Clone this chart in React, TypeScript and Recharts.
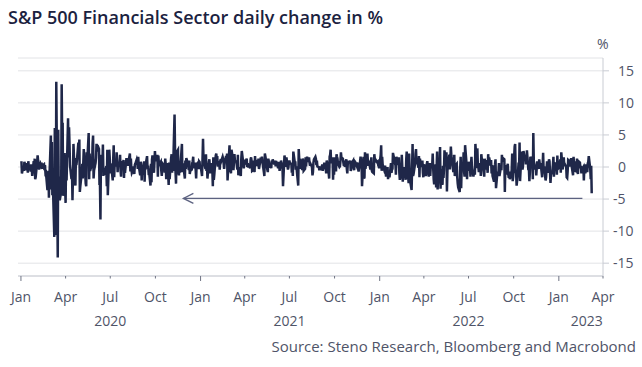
import React from 'react';
import { LineChart, Line, XAxis, YAxis, CartesianGrid, ReferenceLine, ReferenceDot } from 'recharts';

// Daily % change, one value per weekday starting 2020-01-02
const chg2020 = [
  0.9, -1.0, 0.1, -0.6, 0.8, 0.5, -0.5, 0.6, 0.3, -0.9, 0.9, 0.2, -0.3, -0.7, 0.4, -0.2, -1.4, 0.9, -0.6, 1.3, -1.9, -1.6,
  0.8, 1.8, 1.0, 0.6, -0.4, 0.5, 0.3, 0.7, -0.3, 0.2, 0.4, -0.5, 0.3, -1.0, -0.9, -3.6, -3.2, -0.6, -4.8, -1.6,
  4.9, -3.5, 3.9, -4.4, -2.5, -10.9, 6.1, -5.8, -10.6, 13.3, -14.1, 5.8, -3.6, -1.5, -5.2, -3.9, 12.9, 4.5, 6.9, -4.5, 2.2, -3.1,
  -5.6, 1.2, -2.1, 7.6, 1.5, 6.2, 3.5, 0.2, -1.9, -0.4, -5.2, -1.3, 3.6, -2.0, -2.9, 1.4, 0.3, 1.0, 3.8, 1.9, 4.3, -3.9,
  -3.0, -0.9, 0.5, -1.8, 0.6, 2.8, -1.2, -2.6, -3.0, 2.3, 0.6, 5.3, -1.9, 2.1, -0.6, -0.3, 0.4, 3.7, 4.9, -1.8, -0.5,
  0.6, 1.4, 3.6, 2.4, 3.4, 2.8, -2.6, -2.6, -8.2, 1.9, 0.5, 3.5, -1.4, -0.2, -1.2, -0.2, -0.3, -3.0, 2.7, -4.4, 2.7, 1.3,
  -1.0, 0.4, 0.3, -2.1, 1.2, 3.4, -1.6, 0.8, 0.1, 2.3, 1.0, -0.8, 0.6, 0.3, 1.9, -0.6, -1.5, 0.9, 0.2, 1.1, -1.7, 0.6, -0.9,
  1.4, 0.6, 0.9, 0.2, 0.8, 2.1, -0.7, 1.3, -0.2, -0.9, -0.4, 0.1, -1.1, 0.3, 0.5, 1.2, 0.9, -0.3, 1.6, 0.2, -1.3,
  0.8, 0.6, -2.1, 0.4, -1.2, 0.9, -2.3, 0.6, 0.3, 1.7, -0.4, 0.2, -0.8, -0.7, -2.9, 0.5, -2.4, 1.1, 1.8, -0.9, 0.7, 2.5,
  1.4, 0.9, 1.9, -1.5, 1.8, 0.6, 0.4, 0.8, -0.6, -1.4, -0.3, 0.5, 0.2, -0.9, 1.3, 0.4, -1.9, 0.6, -1.2, -2.8, 0.7, -1.9,
  1.4, 2.0, -0.9, 1.6, -0.6, 8.2, 2.4, -0.8, -2.6, 2.3, 2.7, -0.9, -1.3, 0.3, -0.9, 2.4, 3.6, -0.8, 0.1, 0.2, -1.8,
  1.0, -0.3, 1.4, 1.1, 0.3, -0.5, 1.0, -1.1, -0.6, -0.4, 0.6, 0.9, 1.6, -0.2, 0.7, -0.4, -1.8, 0.4, 0.5, -0.3, 0.9, 0.8, -0.2,
];

const chg2021 = [
  0.3, -1.4, 1.3, 4.4, 1.2, 0.9, -0.3, 2.0, -0.6, 0.6, -1.8, 0.8, 1.2, -0.4, -1.0, 0.6, -0.5, -3.0, 1.5, -2.0, -1.2,
  1.8, 2.1, 1.2, 1.7, 0.1, 0.6, -0.4, 0.8, 1.2, 0.9, 1.6, 1.3, 0.6, -0.3, 0.5, 1.7, 1.0, 2.1, -2.1, -0.6,
  3.4, -0.8, 1.4, -1.0, 2.7, 1.3, -0.5, 0.7, 2.0, 1.0, 0.8, 0.2, -0.4, 1.9, -1.3, 0.0, -0.8, -1.4, 1.3, 2.5, 0.6, -0.2, 0.5,
  0.8, 0.7, 1.3, 0.0, 0.6, -0.1, 0.5, -0.2, 1.2, 1.5, 0.9, -0.6, -0.4, 1.0, -0.8, 1.7, 0.2, 0.7, 1.1, 0.1, 1.3, -0.3,
  1.1, 1.0, 1.3, 1.6, 0.8, -0.8, -1.4, 2.1, 1.7, 1.2, -0.4, -0.8, 1.3, 0.9, -0.1, 0.7, -0.2, 1.0, 0.6, 1.2, 0.4,
  0.8, 1.0, 0.1, 0.9, 0.2, -0.2, 0.1, 0.8, -0.6, 1.0, 0.6, 0.3, -0.3, -3.0, 1.8, 1.2, 0.0, 1.3, 1.5, -0.4, -0.1, 0.7,
  1.0, 0.6, 0.5, -0.9, -0.1, -1.4, 2.4, 0.7, 0.9, -0.4, 0.1, -0.5, -2.9, 2.8, 1.3, -0.3, 1.1, 0.8, -0.5, 1.3, 1.0, -0.6,
  -0.3, 1.5, 0.1, 1.2, 1.6, 0.8, 1.5, 0.7, 0.2, 0.5, 0.0, -1.3, -0.8, 0.7, 1.2, 1.6, 1.3, 0.3, 1.0, 0.1, 0.0, -0.5,
  0.1, -0.2, -0.5, 0.4, -0.6, 0.0, -0.3, 0.7, -0.2, -1.0, 1.0, 0.6, 0.8, -1.8, 1.6, 1.9, 2.7, 0.6, 1.5, -2.0, 0.8, -1.2,
  1.5, -0.7, 2.0, 1.6, 1.3, 0.5, 0.0, 0.1, 0.9, 2.3, 1.5, 1.3, 0.7, 0.2, 1.0, 0.0, 1.2, -0.3, -1.0, 0.6, 0.8,
  0.7, 1.0, -0.6, -0.3, 0.6, 1.0, 0.0, -0.5, 0.9, 0.8, 0.2, 0.7, 0.4, -0.2, -0.7, 0.8, 1.6, 1.1, 0.6, -3.0, 1.6, -1.8,
  -1.6, 2.3, -0.3, 1.7, 2.1, 0.8, 0.2, 1.0, -0.4, 0.8, 1.5, -0.6, -0.8, -1.0, 2.0, 1.3, 0.7, 1.1, 0.7, 0.8, 0.3, 0.1, -0.2,
];

const chg2022 = [
  1.9, 3.4, -0.6, 1.6, 0.4, -0.4, -0.1, 0.2, -0.8, -1.5, 0.0, -1.9, -1.0, -1.3, -1.6, 0.6, -0.9, -0.4, -0.3, 2.2, 1.1,
  0.7, 0.8, -1.2, 1.6, 0.3, 1.2, 1.5, -0.9, -2.0, -0.9, 1.9, 0.1, -2.3, -0.9, 0.0, -1.2, -2.0, 1.1, 2.4, -1.6,
  -2.5, 2.1, -0.5, -2.2, -3.6, -0.3, 3.6, -1.4, -1.1, 0.5, 2.1, 2.8, 0.7, 0.9, -0.1, 1.7, -1.6, 1.3, 0.8, 0.0, 1.0, -0.9, -1.6,
  0.3, 0.2, -1.4, -0.8, 0.5, 0.9, -1.5, -0.4, 0.6, -1.4, 0.0, 0.2, 2.1, -0.2, -1.9, -2.7, 0.4, -3.2, -0.1, 2.4, -3.5,
  0.6, 0.7, 3.1, -3.4, -0.3, -2.8, 0.2, -1.7, -0.3, 2.6, 0.1, 2.3, -3.8, -0.6, 0.5, 1.9, -0.4, 1.3, 3.2, 1.8, 0.0, -0.8,
  -0.6, 1.9, -1.4, 0.4, 0.5, -1.6, -2.6, -3.2, -3.9, -0.3, 1.6, -3.3, 0.0, 0.0, 2.3, -0.8, -1.5, 3.4, 0.5, -1.9, 0.4, -0.6,
  0.8, 0.0, -1.5, 0.3, 1.6, 0.0, -1.5, -0.8, -0.5, -1.2, 3.6, -0.2, 2.9, 0.3, 0.0, -0.8, 0.6, -1.4, 2.0, 1.3, 1.2,
  -0.9, -1.5, 1.3, -0.4, 1.1, -0.1, -0.9, 2.0, 0.6, 1.5, 0.2, 1.1, -1.0, 0.3, -1.4, -2.3, 0.0, 0.4, 1.2, -3.3, -0.7, -1.2, -0.9,
  0.6, -1.4, 0.0, -0.5, 1.9, 0.8, 1.4, 1.2, -3.9, 0.3, -1.2, -0.6, 0.5, -1.1, -1.7, -0.7, -1.9, -1.2, -0.4, 2.1, -2.2, -1.5,
  3.2, 3.6, -0.7, -1.0, -2.9, -0.6, 0.7, -0.4, 3.8, -2.2, 2.4, 1.3, -0.4, 0.2, 2.5, 1.1, 1.5, 0.4, 0.9, 2.6, -0.5,
  -0.3, -2.2, -0.8, 1.6, 0.9, 0.8, -1.9, 5.3, 0.9, -0.4, 0.3, -1.3, -0.2, 0.9, -0.3, 1.2, 0.6, 0.0, 0.6, -1.6, 0.2, 2.2,
  -0.4, 0.1, -2.1, -1.6, -0.3, 0.9, -0.9, 1.2, 0.9, -0.8, -2.5, -1.2, -0.6, 0.4, 1.6, -1.5, 0.7, 0.0, 0.2, -1.2, 1.8, -0.3,
];

const chg2023 = [
  0.0, 0.6, 1.2, -0.9, 2.3, -0.4, 1.2, 1.5, 0.4, 0.5, 0.0, -1.6, -1.7, -0.6, 1.1, 0.9, 0.1, 0.3, 1.4, 0.2, -1.3, 1.6,
  0.4, 0.9, -0.6, -0.7, 1.3, -0.8, -1.1, 0.9, 0.7, -0.2, 0.2, -1.0, -0.4, 0.0, -2.1, -0.1, 0.4, -1.0, 0.4, -0.8,
  0.6, 0.8, 1.7, -0.3, -1.9, 0.2, -4.1,
];

const firstDay = '2020-01-02';
const axisStart = '2019-12-26';
const axisEnd = '2023-04-01';
const yTicks = [-15, -10, -5, 0, 5, 10, 15];
const yDomain = [-17, 17];
const monthNames = ['Jan', 'Apr', 'Jul', 'Oct'];
const yearLabels = [
  { year: '2020', at: '2020-07-01' },
  { year: '2021', at: '2021-07-01' },
  { year: '2022', at: '2022-07-01' },
  { year: '2023', at: '2023-02-27' },
];
const arrowLevel = -4.9;
const arrowHead = '2020-11-27';
const arrowTail = '2023-02-18';

const title = 'S&P 500 Financials Sector daily change in %';
const source = 'Source: Steno Research, Bloomberg and Macrobond';
const unit = '%';

const MS = 86400000;
const origin = Date.UTC(2020, 0, 1);
const toDay = (s: string) => {
  const [y, m, d] = s.split('-').map(Number);
  return Math.round((Date.UTC(y, m - 1, d) - origin) / MS);
};
const dayToDate = (n: number) => new Date(origin + n * MS);

const allValues = [...chg2020, ...chg2021, ...chg2022, ...chg2023];
const data: { t: number; v: number }[] = [];
{
  let t = toDay(firstDay);
  for (const v of allValues) {
    while ([0, 6].includes(dayToDate(t).getUTCDay())) t++;
    data.push({ t, v });
    t++;
  }
}

const quarterTicks: number[] = [];
for (let y = 2020; y <= 2023; y++) {
  for (let m = 0; m < 12; m += 3) {
    const d = Math.round((Date.UTC(y, m, 1) - origin) / MS);
    if (d <= toDay(axisEnd)) quarterTicks.push(d);
  }
}
const yearTicks = yearLabels.map((l) => toDay(l.at));

const FONT = "'Open Sans', 'Noto Sans', sans-serif";
const NAVY = '#1f2749';
const TEXT = '#4f5468';
const GRID = '#e2e3e6';
const AXIS = '#c9ccd3';

const MonthTick = (props: any) => {
  const { x, y, payload } = props;
  const m = dayToDate(payload.value).getUTCMonth();
  const len = m === 0 ? 5 : 2.5;
  return (
    <g>
      <line x1={x} x2={x} y1={y} y2={y + len} stroke="#6f7484" strokeWidth={1} />
      <text x={x} y={y + 26} textAnchor="middle" fill={TEXT} fontSize={14} fontFamily={FONT}>
        {monthNames[m / 3]}
      </text>
    </g>
  );
};

const YearTick = (props: any) => {
  const { x, y, payload } = props;
  const lbl = yearLabels[yearTicks.indexOf(payload.value)];
  return (
    <text x={x} y={y + 20} textAnchor="middle" fill={TEXT} fontSize={14} fontFamily={FONT}>
      {lbl ? lbl.year : ''}
    </text>
  );
};

const ValueTick = (props: any) => {
  const { x, y, payload } = props;
  const v = payload.value;
  return (
    <text x={v < 0 ? x + 2 : x + 7} y={y} dy="0.35em" textAnchor="start" fill={TEXT} fontSize={14} fontFamily={FONT}>
      {String(v)}
    </text>
  );
};

const ArrowHead = (props: any) => {
  const { cx, cy } = props;
  if (cx == null || cy == null) return null;
  return (
    <path d={`M${cx + 10},${cy - 5} L${cx},${cy} L${cx + 10},${cy + 5}`} fill="none" stroke="#5c6280" strokeWidth={1.3} />
  );
};

export default function App() {
  return (
    <div style={{ position: 'absolute', left: 0, top: 0, width: 642, height: 367, background: '#fff', overflow: 'hidden' }}>
      <div style={{ position: 'absolute', left: 8, top: 5, fontFamily: FONT, fontWeight: 600, fontSize: 18, color: '#1b2240', whiteSpace: 'nowrap' }}>
        {title}
      </div>
      <div style={{ position: 'absolute', left: 597, top: 34, fontFamily: FONT, fontSize: 14, color: TEXT }}>{unit}</div>
      <div style={{ position: 'absolute', right: 6, top: 336, fontFamily: FONT, fontSize: 15, color: TEXT, whiteSpace: 'nowrap' }}>
        {source}
      </div>
      <div style={{ position: 'absolute', left: 0, top: 0 }}>
        <LineChart width={642} height={367} data={data} margin={{ top: 58, right: 0, left: 18, bottom: 36 }}>
          <CartesianGrid vertical={false} stroke={GRID} strokeWidth={1} />
          <XAxis
            xAxisId="m"
            dataKey="t"
            type="number"
            domain={[toDay(axisStart), toDay(axisEnd)]}
            ticks={quarterTicks}
            tick={<MonthTick />}
            tickLine={false}
            tickSize={0}
            tickMargin={0}
            axisLine={{ stroke: AXIS }}
            height={30}
            interval={0}
            allowDataOverflow
          />
          <XAxis
            xAxisId="y"
            dataKey="t"
            type="number"
            domain={[toDay(axisStart), toDay(axisEnd)]}
            ticks={yearTicks}
            tick={<YearTick />}
            tickLine={false}
            tickSize={0}
            tickMargin={0}
            axisLine={false}
            height={25}
            interval={0}
            allowDataOverflow
          />
          <YAxis
            orientation="right"
            domain={yDomain}
            ticks={yTicks}
            tick={<ValueTick />}
            tickLine={{ stroke: AXIS }}
            axisLine={{ stroke: AXIS }}
            width={39}
            interval={0}
            allowDataOverflow
          />
          <Line
            xAxisId="m"
            type="linear"
            dataKey="v"
            stroke={NAVY}
            strokeWidth={2.5}
            dot={false}
            isAnimationActive={false}
          />
          <ReferenceLine
            xAxisId="m"
            segment={[
              { x: toDay(arrowHead), y: arrowLevel },
              { x: toDay(arrowTail), y: arrowLevel },
            ]}
            stroke="#5c6280"
            strokeWidth={1.3}
          />
          <ReferenceDot xAxisId="m" x={toDay(arrowHead)} y={arrowLevel} r={0} shape={<ArrowHead />} />
        </LineChart>
      </div>
    </div>
  );
}
